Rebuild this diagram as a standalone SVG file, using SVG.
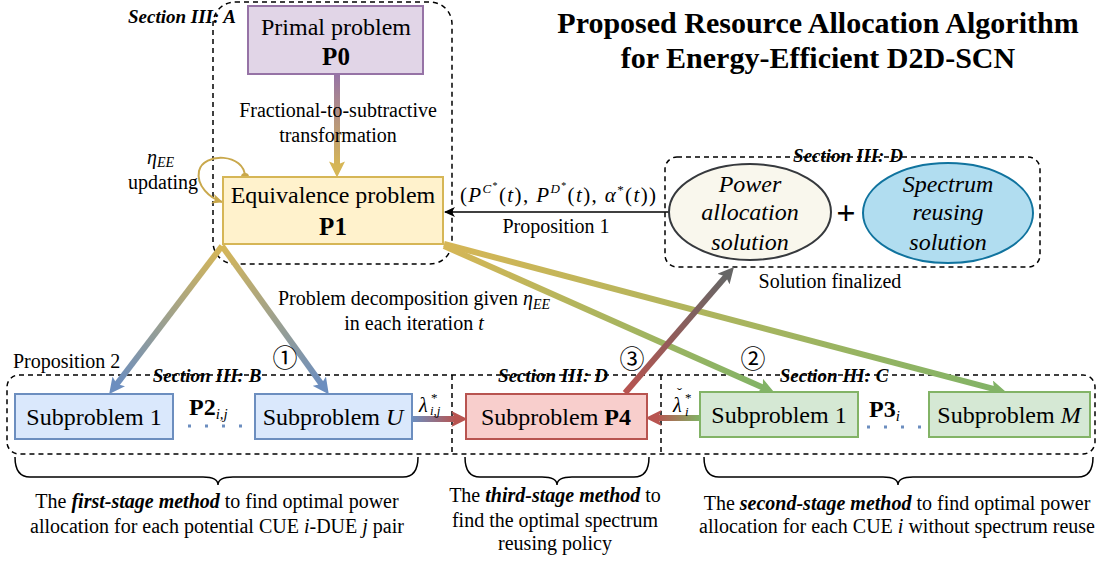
<svg xmlns="http://www.w3.org/2000/svg" width="1103" height="561" viewBox="0 0 1103 561">
<style>
text { font-family: "Liberation Serif", "DejaVu Serif", serif; fill: #000; }
.t20 { font-size: 20px; }
.box { font-size: 24px; }
.sec { font-size: 19px; font-weight: bold; font-style: italic; }
.it { font-style: italic; }
.bi { font-weight: bold; font-style: italic; }
.b { font-weight: bold; }
.dash { fill: none; stroke: #000; stroke-width: 1.5; stroke-dasharray: 5 4; }
.brace { fill: none; stroke: #000; stroke-width: 1.5; }
.thick { fill: none; stroke-width: 6; }
.circ { font-family: "Noto Sans CJK SC", "DejaVu Sans", sans-serif; font-size: 25px; }
.dots { fill: none; stroke-width: 3; stroke-dasharray: 3 14; }
</style>
<defs>
<marker id="hGold" markerUnits="userSpaceOnUse" markerWidth="16" markerHeight="16" viewBox="0 0 14 14" refX="4" refY="7" orient="auto"><path d="M0,0 L14,7 L0,14 L3,7 z" fill="#d6b656"/></marker>
<marker id="hBlue" markerUnits="userSpaceOnUse" markerWidth="16" markerHeight="16" viewBox="0 0 14 14" refX="4" refY="7" orient="auto"><path d="M0,0 L14,7 L0,14 L3,7 z" fill="#6c8ebf"/></marker>
<marker id="hGreen" markerUnits="userSpaceOnUse" markerWidth="16" markerHeight="16" viewBox="0 0 14 14" refX="4" refY="7" orient="auto"><path d="M0,0 L14,7 L0,14 L3,7 z" fill="#82b366"/></marker>
<marker id="hRed" markerUnits="userSpaceOnUse" markerWidth="16" markerHeight="16" viewBox="0 0 14 14" refX="4" refY="7" orient="auto"><path d="M0,0 L14,7 L0,14 L3,7 z" fill="#b85450"/></marker>
<marker id="hGray" markerUnits="userSpaceOnUse" markerWidth="16" markerHeight="16" viewBox="0 0 14 14" refX="4" refY="7" orient="auto"><path d="M0,0 L14,7 L0,14 L3,7 z" fill="#666666"/></marker>
<marker id="hBlack" markerUnits="userSpaceOnUse" markerWidth="12" markerHeight="12" viewBox="0 0 12 12" refX="10" refY="6" orient="auto"><path d="M0,1 L11,6 L0,11 L3,6 z" fill="#000"/></marker>
<marker id="hGoldS" markerUnits="userSpaceOnUse" markerWidth="12" markerHeight="12" viewBox="0 0 12 12" refX="10" refY="6" orient="auto"><path d="M0,1 L11,6 L0,11 L3,6 z" fill="#c9a84c"/></marker>
<linearGradient id="gP0" gradientUnits="userSpaceOnUse" x1="337" y1="74" x2="337" y2="166"><stop offset="0" stop-color="#9673a6"/><stop offset="1" stop-color="#d6b656"/></linearGradient>
<linearGradient id="gB1" gradientUnits="userSpaceOnUse" x1="222" y1="246" x2="116" y2="385"><stop offset="0" stop-color="#d6b656"/><stop offset="1" stop-color="#6c8ebf"/></linearGradient>
<linearGradient id="gBU" gradientUnits="userSpaceOnUse" x1="222" y1="246" x2="322" y2="385"><stop offset="0" stop-color="#d6b656"/><stop offset="1" stop-color="#6c8ebf"/></linearGradient>
<linearGradient id="gG1" gradientUnits="userSpaceOnUse" x1="444" y1="246" x2="764" y2="388"><stop offset="0" stop-color="#d6b656"/><stop offset="1" stop-color="#82b366"/></linearGradient>
<linearGradient id="gGM" gradientUnits="userSpaceOnUse" x1="444" y1="244" x2="995" y2="389"><stop offset="0" stop-color="#d6b656"/><stop offset="1" stop-color="#82b366"/></linearGradient>
<linearGradient id="gUR" gradientUnits="userSpaceOnUse" x1="412" y1="419" x2="456" y2="419"><stop offset="0" stop-color="#6c8ebf"/><stop offset="1" stop-color="#b85450"/></linearGradient>
<linearGradient id="gGR" gradientUnits="userSpaceOnUse" x1="700" y1="418" x2="657" y2="418"><stop offset="0" stop-color="#82b366"/><stop offset="1" stop-color="#b85450"/></linearGradient>
<linearGradient id="gRG" gradientUnits="userSpaceOnUse" x1="625" y1="393" x2="726.5" y2="275.6"><stop offset="0" stop-color="#b85450"/><stop offset="1" stop-color="#666666"/></linearGradient>
</defs>

<!-- Title -->
<g id="title">
<text x="818" y="33" text-anchor="middle" class="b" font-size="30">Proposed Resource Allocation Algorithm</text>
<text x="818" y="68" text-anchor="middle" class="b" font-size="30">for Energy-Efficient D2D-SCN</text>
</g>

<!-- Section containers -->
<g id="sections">
<rect class="dash" x="213" y="2" width="239" height="262" rx="22"/>
<text class="sec" x="128" y="23">Section III: A</text>
<rect class="dash" x="665" y="157" width="375" height="110" rx="12"/>
<text class="sec" x="848" y="162" text-anchor="middle">Section III: D</text>
<rect class="dash" x="7" y="375" width="1088" height="79" rx="12"/>
<line class="dash" x1="452" y1="375" x2="452" y2="454"/>
<line class="dash" x1="661" y1="375" x2="661" y2="454"/>
<text class="sec" x="207" y="382" text-anchor="middle">Section III: B</text>
<text class="sec" x="553" y="382" text-anchor="middle">Section III: D</text>
<text class="sec" x="834" y="382" text-anchor="middle">Section III: C</text>
</g>

<!-- Connectors -->
<g id="connectors">
<line class="thick" x1="337" y1="74" x2="337" y2="166" stroke="url(#gP0)" marker-end="url(#hGold)"/>
<line class="thick" x1="222" y1="246" x2="116.1" y2="385" stroke="url(#gB1)" marker-end="url(#hBlue)"/>
<line class="thick" x1="222" y1="246" x2="322.1" y2="384.9" stroke="url(#gBU)" marker-end="url(#hBlue)"/>
<line class="thick" x1="444" y1="246" x2="763.9" y2="387.9" stroke="url(#gG1)" marker-end="url(#hGreen)"/>
<line class="thick" x1="444" y1="244" x2="995.3" y2="389.4" stroke="url(#gGM)" marker-end="url(#hGreen)"/>
<line class="thick" x1="412" y1="419" x2="456" y2="419" stroke="url(#gUR)" marker-end="url(#hRed)"/>
<line class="thick" x1="700" y1="418" x2="657" y2="418" stroke="url(#gGR)" marker-end="url(#hRed)"/>
<line class="thick" x1="625" y1="393" x2="726.5" y2="275.6" stroke="url(#gRG)" marker-end="url(#hGray)"/>
<line x1="669" y1="212" x2="445" y2="212" stroke="#000" stroke-width="1.5" marker-end="url(#hBlack)"/>
<path d="M245,177 C245,153 203,152 199,171 C196,186 210,198 222,202" fill="none" stroke="#c9a84c" stroke-width="2" marker-end="url(#hGoldS)"/>
<circle cx="245" cy="177" r="4" fill="#c9a84c"/>
</g>

<!-- Nodes -->
<g id="p0">
<rect x="248" y="6" width="175" height="68" fill="#e1d5e7" stroke="#9673a6" stroke-width="2"/>
<text class="box" x="336" y="35" text-anchor="middle">Primal problem</text>
<text class="b" font-size="25" x="336" y="65" text-anchor="middle">P0</text>
</g>
<g id="p1">
<rect x="223" y="177" width="220" height="67" fill="#fff2cc" stroke="#d6b656" stroke-width="2"/>
<text class="box" x="333" y="203" text-anchor="middle">Equivalence problem</text>
<text class="b" font-size="25" x="333" y="235" text-anchor="middle">P1</text>
</g>
<g id="power">
<ellipse cx="750" cy="212" rx="81" ry="48" fill="#f9f7ed" stroke="#36393d" stroke-width="2"/>
<text class="box it" x="750" y="192" text-anchor="middle">Power</text>
<text class="box it" x="750" y="220" text-anchor="middle">allocation</text>
<text class="box it" x="750" y="250" text-anchor="middle">solution</text>
</g>
<g id="plus">
<text x="846" y="224" text-anchor="middle" font-family="DejaVu Sans, sans-serif" font-weight="bold" font-size="34">+</text>
</g>
<g id="spectrum">
<ellipse cx="948" cy="213" rx="85" ry="50" fill="#b1ddf0" stroke="#10739e" stroke-width="2"/>
<text class="box it" x="948" y="192" text-anchor="middle">Spectrum</text>
<text class="box it" x="948" y="220" text-anchor="middle">reusing</text>
<text class="box it" x="948" y="250" text-anchor="middle">solution</text>
</g>
<g id="sub1b">
<rect x="15" y="394" width="158" height="45" fill="#dae8fc" stroke="#6c8ebf" stroke-width="2"/>
<text class="box" x="94" y="425" text-anchor="middle">Subproblem 1</text>
</g>
<g id="p2label">
<text x="189" y="415"><tspan class="b" font-size="24">P2</tspan><tspan class="it" font-size="15" dy="4">i,j</tspan></text>
<line class="dots" x1="188" y1="426" x2="244" y2="426" stroke="#6c8ebf"/>
</g>
<g id="subU">
<rect x="255" y="394" width="157" height="45" fill="#dae8fc" stroke="#6c8ebf" stroke-width="2"/>
<text class="box" x="333" y="425" text-anchor="middle">Subproblem <tspan class="it">U</tspan></text>
</g>
<g id="p4">
<rect x="466" y="394" width="181" height="45" fill="#f8cecc" stroke="#b85450" stroke-width="2"/>
<text class="box" x="556" y="425" text-anchor="middle">Subproblem <tspan class="b">P4</tspan></text>
</g>
<g id="sub1g">
<rect x="700" y="392" width="158" height="45" fill="#d5e8d4" stroke="#82b366" stroke-width="2"/>
<text class="box" x="779" y="423" text-anchor="middle">Subproblem 1</text>
</g>
<g id="p3label">
<text x="869" y="417"><tspan class="b" font-size="24">P3</tspan><tspan class="it" font-size="15" dy="4">i</tspan></text>
<line class="dots" x1="867" y1="427" x2="924" y2="427" stroke="#6c8ebf"/>
</g>
<g id="subM">
<rect x="929" y="392" width="161" height="45" fill="#d5e8d4" stroke="#82b366" stroke-width="2"/>
<text class="box" x="1009" y="423" text-anchor="middle">Subproblem <tspan class="it">M</tspan></text>
</g>

<!-- Labels -->
<g id="labels">
<text class="t20" x="338" y="117" text-anchor="middle">Fractional-to-subtractive</text>
<text class="t20" x="338" y="142" text-anchor="middle">transformation</text>
<text class="t20" x="147" y="164"><tspan class="it">η</tspan><tspan class="it" font-size="14" dy="3">EE</tspan></text>
<text class="t20" x="163" y="189" text-anchor="middle">updating</text>
<text x="460" y="202" font-size="21" textLength="196" lengthAdjust="spacing"><tspan>(</tspan><tspan class="it">P</tspan><tspan class="it" font-size="13" dy="-9">C</tspan><tspan font-size="10" dy="-4">*</tspan><tspan dy="13">(</tspan><tspan class="it">t</tspan><tspan>), </tspan><tspan class="it">P</tspan><tspan class="it" font-size="13" dy="-9">D</tspan><tspan font-size="10" dy="-4">*</tspan><tspan dy="13">(</tspan><tspan class="it">t</tspan><tspan>), </tspan><tspan class="it">α</tspan><tspan font-size="13" dy="-8">*</tspan><tspan dy="8">(</tspan><tspan class="it">t</tspan><tspan>))</tspan></text>
<text class="t20" x="556" y="233" text-anchor="middle">Proposition 1</text>
<text class="t20" x="830" y="288" text-anchor="middle">Solution finalized</text>
<text class="t20" x="414" y="305" text-anchor="middle">Problem decomposition given <tspan class="it">η</tspan><tspan class="it" font-size="14" dy="4">EE</tspan></text>
<text class="t20" x="414" y="330" text-anchor="middle">in each iteration <tspan class="it">t</tspan></text>
<text class="t20" x="13" y="368">Proposition 2</text>
<text class="circ" x="285" y="367" text-anchor="middle">①</text>
<text class="circ" x="632" y="368" text-anchor="middle">③</text>
<text class="circ" x="753" y="368" text-anchor="middle">②</text>
<text x="419" y="412" font-size="20" class="it">λ</text>
<text x="431" y="402" font-size="13">*</text>
<text x="430" y="415" font-size="13" class="it">i,j</text>
<text x="677" y="398" font-size="15">ˇ</text>
<text x="673" y="412" font-size="20" class="it">λ</text>
<text x="685" y="402" font-size="13">*</text>
<text x="685" y="416" font-size="13" class="it">i</text>
</g>

<!-- Braces and descriptions -->
<g id="braces">
<path class="brace" d="M15,457 Q15,477 30,477 L203,477 Q218,477 218,485 Q218,477 233,477 L403,477 Q418,477 418,457"/>
<path class="brace" d="M465,457 Q465,477 480,477 L542,477 Q557,477 557,485 Q557,477 572,477 L634,477 Q649,477 649,457"/>
<path class="brace" d="M704,457 Q704,477 719,477 L883,477 Q898,477 898,485 Q898,477 913,477 L1078,477 Q1093,477 1093,457"/>
</g>
<g id="descriptions">
<text class="t20" x="217" y="508" text-anchor="middle">The <tspan class="bi">first-stage method</tspan> to find optimal power</text>
<text class="t20" x="217" y="533" text-anchor="middle">allocation for each potential CUE <tspan class="it">i</tspan>-DUE <tspan class="it">j</tspan> pair</text>
<text class="t20" x="555" y="502" text-anchor="middle">The <tspan class="bi">third-stage method</tspan> to</text>
<text class="t20" x="555" y="527" text-anchor="middle">find the optimal spectrum</text>
<text class="t20" x="555" y="550" text-anchor="middle">reusing policy</text>
<text class="t20" x="897" y="510" text-anchor="middle">The <tspan class="bi">second-stage method</tspan> to find optimal power</text>
<text class="t20" x="897" y="533" text-anchor="middle">allocation for each CUE <tspan class="it">i</tspan> without spectrum reuse</text>
</g>
</svg>
